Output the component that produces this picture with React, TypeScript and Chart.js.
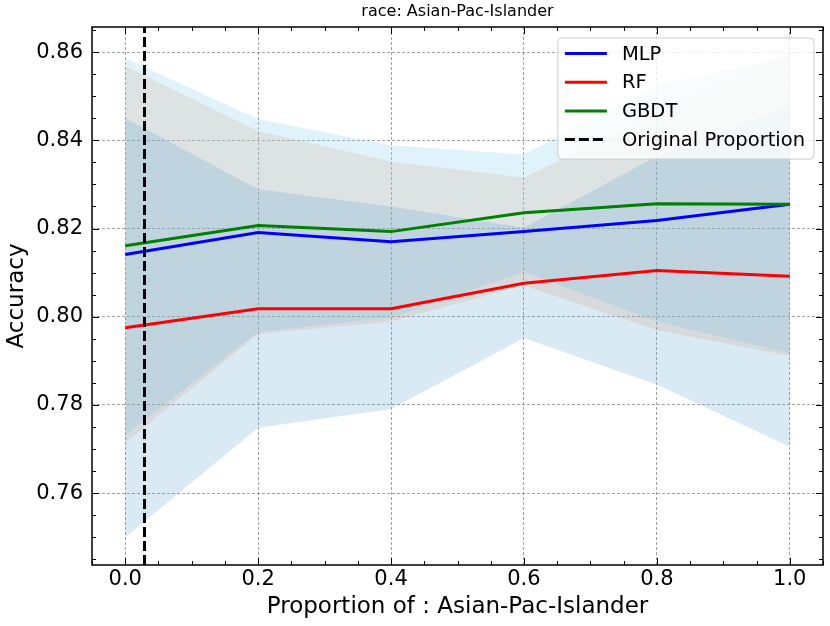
import { useEffect, useRef } from 'react';
import { Chart, registerables } from 'chart.js';

Chart.register(...registerables);

// proportion of the group in the training data
const proportions = [0.0, 0.2, 0.4, 0.6, 0.8, 1.0];

const mlpMean = [0.8141, 0.8191, 0.817, 0.8193, 0.8218, 0.8255];
const mlpUpper = [0.8568, 0.8421, 0.8352, 0.8316, 0.8461, 0.8598];
const mlpLower = [0.7714, 0.7961, 0.7989, 0.8071, 0.797, 0.7911];

const rfMean = [0.7975, 0.8018, 0.8018, 0.8076, 0.8105, 0.8092];
const rfUpper = [0.845, 0.8289, 0.825, 0.8202, 0.8364, 0.8477];
const rfLower = [0.75, 0.7748, 0.7791, 0.7952, 0.7846, 0.7705];

const gbdtMean = [0.8161, 0.8207, 0.8193, 0.8236, 0.8256, 0.8255];
const gbdtUpper = [0.8586, 0.8448, 0.8389, 0.8368, 0.8525, 0.8591];
const gbdtLower = [0.7732, 0.7966, 0.7998, 0.8102, 0.7989, 0.7918];

const originalProportion = 0.029;

const xTicks = [0.0, 0.2, 0.4, 0.6, 0.8, 1.0];
const yTicks = [0.76, 0.78, 0.8, 0.82, 0.84, 0.86];

const X_MIN = -0.05;
const X_MAX = 1.05;
const Y_MIN = 0.7437;
const Y_MAX = 0.8657;

const FONT = '"DejaVu Sans", "Liberation Sans", sans-serif';

const pts = (ys: number[]) => proportions.map((x, i) => ({ x, y: ys[i] }));

const lineDs = (label: string, ys: number[], color: string, rank: number) => ({
  label,
  data: pts(ys),
  borderColor: color,
  backgroundColor: color,
  borderWidth: 3,
  pointRadius: 0,
  fill: false,
  inLegend: true,
  legendRank: rank,
});

const bandDs = (upper: number[], lower: number[], color: string) => [
  {
    label: '',
    data: pts(upper),
    borderColor: 'rgba(0,0,0,0)',
    borderWidth: 0,
    pointRadius: 0,
    backgroundColor: color,
    fill: '+1',
  },
  {
    label: '',
    data: pts(lower),
    borderColor: 'rgba(0,0,0,0)',
    borderWidth: 0,
    pointRadius: 0,
    fill: false,
  },
];

// inward ticks on all four sides + black frame
const framePlugin = {
  id: 'frameTicks',
  afterDatasetsDraw(chart: any) {
    const { ctx, chartArea: a, scales } = chart;
    const x = scales.x;
    const y = scales.y;
    ctx.save();
    ctx.strokeStyle = '#000';
    ctx.lineWidth = 1;
    const major = 7;
    const minor = 4;
    const drawX = (v: number, len: number) => {
      const px = Math.round(x.getPixelForValue(v)) + 0.5;
      ctx.beginPath();
      ctx.moveTo(px, a.bottom);
      ctx.lineTo(px, a.bottom - len);
      ctx.moveTo(px, a.top);
      ctx.lineTo(px, a.top + len);
      ctx.stroke();
    };
    const drawY = (v: number, len: number) => {
      const py = Math.round(y.getPixelForValue(v)) + 0.5;
      ctx.beginPath();
      ctx.moveTo(a.left, py);
      ctx.lineTo(a.left + len, py);
      ctx.moveTo(a.right, py);
      ctx.lineTo(a.right - len, py);
      ctx.stroke();
    };
    xTicks.forEach((v) => drawX(v, major));
    for (let k = Math.ceil(X_MIN / 0.05); k <= Math.floor(X_MAX / 0.05); k++) {
      if (k % 4 !== 0) drawX(k * 0.05, minor);
    }
    yTicks.forEach((v) => drawY(v, major));
    for (let k = Math.ceil(Y_MIN / 0.005); k <= Math.floor(Y_MAX / 0.005); k++) {
      if (k % 4 !== 0) drawY(k * 0.005, minor);
    }
    ctx.lineWidth = 1.5;
    ctx.strokeRect(a.left, a.top, a.right - a.left, a.bottom - a.top);
    ctx.restore();
  },
};

// matplotlib-like boxed legend in the upper right
const boxLegendPlugin = {
  id: 'boxLegend',
  afterDraw(chart: any) {
    const { ctx, chartArea: a } = chart;
    const items = chart.data.datasets
      .filter((d: any) => d.inLegend)
      .sort((p: any, q: any) => p.legendRank - q.legendRank);
    ctx.save();
    ctx.font = `19.5px ${FONT}`;
    const textW = Math.max(...items.map((d: any) => ctx.measureText(d.label).width));
    const rowH = 28.7;
    const w = 64 + textW + 9;
    const h = 15 + rowH * (items.length - 1) + 20;
    const left = a.right - 9 - w;
    const top = a.top + 11;
    ctx.beginPath();
    ctx.roundRect(left, top, w, h, 4);
    ctx.fillStyle = 'rgba(255,255,255,0.8)';
    ctx.fill();
    ctx.strokeStyle = 'rgba(204,204,204,1)';
    ctx.lineWidth = 1;
    ctx.stroke();
    items.forEach((d: any, i: number) => {
      const cy = top + 15.5 + i * rowH;
      ctx.beginPath();
      ctx.strokeStyle = d.borderColor;
      ctx.lineWidth = d.borderWidth;
      ctx.setLineDash(d.borderDash || []);
      ctx.moveTo(left + 7, cy);
      ctx.lineTo(left + 49, cy);
      ctx.stroke();
      ctx.setLineDash([]);
      ctx.fillStyle = '#000';
      ctx.textBaseline = 'middle';
      ctx.textAlign = 'left';
      ctx.fillText(d.label, left + 64, cy + 1);
    });
    ctx.restore();
  },
};

export default function App() {
  const canvasRef = useRef<HTMLCanvasElement | null>(null);

  useEffect(() => {
    document.body.style.margin = '0';
    if (!canvasRef.current) return;

    const datasets: any[] = [
      {
        label: 'Original Proportion',
        data: [
          { x: originalProportion, y: Y_MIN },
          { x: originalProportion, y: Y_MAX },
        ],
        borderColor: '#000000',
        backgroundColor: '#000000',
        borderWidth: 3,
        borderDash: [10, 4],
        pointRadius: 0,
        fill: false,
        inLegend: true,
        legendRank: 3,
      },
      lineDs('GBDT', gbdtMean, '#008000', 2),
      lineDs('RF', rfMean, '#ff0000', 1),
      lineDs('MLP', mlpMean, '#0000ff', 0),
      ...bandDs(rfUpper, rfLower, 'rgba(70,150,200,0.2)'),
      ...bandDs(gbdtUpper, gbdtLower, 'rgba(135,206,235,0.25)'),
      ...bandDs(mlpUpper, mlpLower, 'rgba(230,150,100,0.2)'),
    ];

    const tickFont = { family: FONT, size: 21 };
    const labelFont = { family: FONT, size: 23 };

    const chart = new Chart(canvasRef.current, {
      type: 'line',
      data: { datasets },
      options: {
        responsive: false,
        animation: false,
        events: [],
        layout: { padding: { left: 0, right: 7, top: 0, bottom: 0 } },
        plugins: {
          legend: { display: false },
          tooltip: { enabled: false },
          title: {
            display: true,
            text: 'race: Asian-Pac-Islander',
            color: '#000',
            fullSize: false,
            font: { family: FONT, size: 16, weight: 'normal' },
            padding: { top: 2.5, bottom: 5.3 },
          },
        },
        scales: {
          x: {
            type: 'linear',
            min: X_MIN,
            max: X_MAX,
            afterBuildTicks: (scale: any) => {
              scale.ticks = xTicks.map((value) => ({ value }));
            },
            afterFit: (scale: any) => {
              scale.height = 61;
            },
            ticks: {
              color: '#000',
              font: tickFont,
              padding: 1.5,
              maxRotation: 0,
              callback: (v: any) => Number(v).toFixed(1),
            },
            grid: {
              drawTicks: false,
              color: 'rgba(110,110,110,0.8)',
              lineWidth: 0.8,
            },
            border: { display: false, dash: [3, 2] },
            title: {
              display: true,
              text: 'Proportion of : Asian-Pac-Islander',
              color: '#000',
              font: labelFont,
              padding: { top: 0, bottom: 5 },
            },
          },
          y: {
            type: 'linear',
            min: Y_MIN,
            max: Y_MAX,
            afterBuildTicks: (scale: any) => {
              scale.ticks = yTicks.map((value) => ({ value }));
            },
            afterFit: (scale: any) => {
              scale.width = 92;
            },
            ticks: {
              color: '#000',
              font: tickFont,
              padding: 9,
              callback: (v: any) => Number(v).toFixed(2),
            },
            grid: {
              drawTicks: false,
              color: 'rgba(110,110,110,0.8)',
              lineWidth: 0.8,
            },
            border: { display: false, dash: [3, 2] },
            title: {
              display: true,
              text: 'Accuracy',
              color: '#000',
              font: labelFont,
              padding: { top: 3, bottom: 0 },
            },
          },
        },
      } as any,
      plugins: [framePlugin, boxLegendPlugin],
    });

    return () => {
      chart.destroy();
    };
  }, []);

  return (
    <div style={{ width: 830, height: 626 }}>
      <canvas ref={canvasRef} width={830} height={626} />
    </div>
  );
}
